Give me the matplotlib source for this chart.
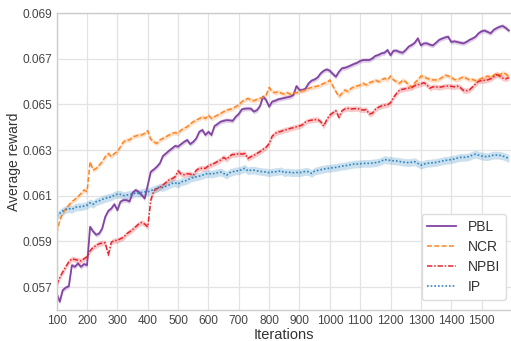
import numpy as np
import matplotlib
matplotlib.use("Agg")
import matplotlib.pyplot as plt

iterations = list(range(100, 1600, 10))

pbl = [56.72, 56.36, 56.87, 56.98, 57.04, 57.96, 57.89, 58.04, 57.89, 58.01,
       57.96, 59.64, 59.44, 59.29, 59.35, 59.57, 60.08, 60.34, 60.44, 60.63,
       60.37, 60.74, 60.81, 60.81, 60.75, 61.13, 61.25, 61.17, 61.03, 60.88,
       61.47, 62.05, 62.15, 62.27, 62.42, 62.74, 62.85, 62.97, 63.07, 63.18,
       63.15, 63.26, 63.36, 63.44, 63.26, 63.36, 63.51, 63.80, 63.88, 63.66,
       63.80, 63.66, 64.05, 64.14, 64.24, 64.28, 64.31, 64.30, 64.28, 64.46,
       64.58, 64.78, 64.81, 64.82, 64.81, 64.68, 64.75, 64.93, 65.34, 65.19,
       64.90, 65.12, 65.16, 65.22, 65.25, 65.28, 65.31, 65.34, 65.41, 65.80,
       65.63, 65.63, 65.69, 65.92, 66.04, 66.09, 66.18, 66.36, 66.47, 66.53,
       66.47, 66.33, 66.21, 66.43, 66.58, 66.60, 66.65, 66.71, 66.77, 66.82,
       66.90, 66.94, 66.94, 66.94, 67.01, 67.12, 67.16, 67.23, 67.26, 67.38,
       67.15, 67.35, 67.35, 67.29, 67.26, 67.38, 67.53, 67.60, 67.70, 67.89,
       67.58, 67.67, 67.67, 67.61, 67.58, 67.70, 67.82, 67.88, 67.93, 67.96,
       67.73, 67.76, 67.73, 67.70, 67.67, 67.73, 67.82, 67.88, 67.96, 68.11,
       68.20, 68.23, 68.17, 68.11, 68.26, 68.34, 68.40, 68.43, 68.34, 68.23]

ncr = [59.35, 59.93, 60.23, 60.44, 60.59, 60.74, 60.84, 60.96, 61.10, 61.25,
       61.18, 62.49, 62.12, 62.20, 62.34, 62.49, 62.71, 62.85, 62.71, 62.85,
       62.93, 63.15, 63.36, 63.44, 63.44, 63.58, 63.61, 63.66, 63.66, 63.73,
       63.85, 63.47, 63.36, 63.29, 63.44, 63.51, 63.58, 63.66, 63.73, 63.76,
       63.73, 63.88, 63.95, 64.02, 64.14, 64.24, 64.31, 64.38, 64.46, 64.38,
       64.53, 64.38, 64.46, 64.53, 64.60, 64.68, 64.75, 64.78, 64.82, 64.90,
       64.97, 65.12, 65.19, 65.26, 65.19, 65.16, 65.22, 65.26, 65.31, 65.41,
       65.74, 65.56, 65.51, 65.56, 65.49, 65.45, 65.51, 65.44, 65.49, 65.51,
       65.56, 65.60, 65.63, 65.70, 65.74, 65.77, 65.80, 65.85, 65.92, 65.95,
       66.07, 65.80, 65.56, 65.34, 65.49, 65.63, 65.56, 65.70, 65.77, 65.80,
       65.85, 65.92, 65.85, 65.95, 65.99, 66.07, 65.99, 66.07, 66.14, 66.07,
       66.24, 66.07, 65.99, 65.92, 66.07, 65.99, 65.85, 65.74, 65.95, 66.07,
       66.24, 66.21, 66.14, 66.09, 66.07, 66.07, 66.09, 66.18, 66.28, 66.24,
       66.18, 66.09, 66.07, 66.14, 66.21, 66.14, 66.07, 66.09, 66.04, 66.07,
       66.14, 66.18, 66.24, 66.18, 66.28, 66.36, 66.28, 66.39, 66.33, 66.21]

npbi = [57.09, 57.42, 57.67, 57.89, 58.11, 58.24, 58.21, 58.18, 58.15, 58.24,
        58.33, 58.59, 58.74, 58.82, 58.90, 58.93, 58.94, 58.40, 58.97, 59.04,
        59.04, 59.12, 59.17, 59.33, 59.42, 59.52, 59.64, 59.76, 59.83, 59.76,
        59.64, 60.81, 61.22, 61.31, 61.36, 61.47, 61.58, 61.69, 61.74, 61.83,
        62.09, 61.95, 61.92, 61.96, 61.95, 61.90, 62.12, 62.20, 62.20, 62.20,
        62.31, 62.36, 62.42, 62.50, 62.56, 62.68, 62.59, 62.74, 62.81, 62.80,
        62.85, 62.82, 62.85, 62.63, 62.71, 62.77, 62.85, 62.93, 63.03, 63.12,
        63.29, 63.61, 63.73, 63.79, 63.82, 63.88, 63.90, 63.95, 63.98, 64.02,
        64.05, 64.11, 64.23, 64.28, 64.31, 64.33, 64.34, 64.24, 64.05, 64.34,
        64.53, 64.63, 64.72, 64.43, 64.72, 64.80, 64.82, 64.80, 64.81, 64.82,
        64.78, 64.75, 64.77, 64.58, 64.61, 64.78, 64.87, 64.93, 64.96, 64.98,
        65.07, 65.31, 65.48, 65.63, 65.66, 65.69, 65.71, 65.74, 65.82, 65.86,
        65.89, 65.95, 65.85, 65.71, 65.77, 65.77, 65.74, 65.77, 65.80, 65.80,
        65.79, 65.77, 65.80, 65.74, 65.61, 65.60, 65.63, 65.76, 65.89, 66.01,
        66.04, 66.05, 66.07, 66.12, 66.21, 66.30, 66.24, 66.15, 66.12, 66.17]

ip = [60.11, 60.23, 60.34, 60.40, 60.44, 60.40, 60.49, 60.52, 60.52, 60.55,
      60.59, 60.69, 60.63, 60.74, 60.78, 60.84, 60.88, 60.93, 60.95, 61.03,
      61.07, 61.06, 61.01, 61.03, 61.06, 61.07, 61.13, 61.10, 61.15, 61.17,
      61.17, 61.22, 61.28, 61.32, 61.39, 61.36, 61.42, 61.47, 61.54, 61.57,
      61.51, 61.61, 61.64, 61.68, 61.76, 61.80, 61.83, 61.86, 61.90, 61.95,
      61.98, 61.95, 61.98, 62.01, 62.04, 61.98, 61.90, 62.01, 62.05, 62.09,
      62.09, 62.15, 62.20, 62.09, 62.12, 62.12, 62.09, 62.07, 62.05, 62.04,
      62.01, 62.04, 62.05, 62.07, 62.09, 62.01, 62.04, 62.02, 62.01, 62.02,
      62.01, 62.04, 62.07, 62.05, 61.98, 62.08, 62.11, 62.14, 62.17, 62.20,
      62.20, 62.23, 62.24, 62.27, 62.30, 62.31, 62.34, 62.36, 62.39, 62.39,
      62.40, 62.42, 62.42, 62.42, 62.43, 62.45, 62.47, 62.52, 62.59, 62.56,
      62.55, 62.53, 62.52, 62.50, 62.47, 62.46, 62.45, 62.47, 62.49, 62.42,
      62.34, 62.39, 62.42, 62.43, 62.45, 62.46, 62.49, 62.52, 62.55, 62.56,
      62.59, 62.61, 62.65, 62.68, 62.68, 62.69, 62.72, 62.78, 62.82, 62.78,
      62.74, 62.72, 62.71, 62.75, 62.78, 62.78, 62.77, 62.74, 62.69, 62.63]

# values above are in units of 1e-3
spread = {"PBL": 0.10, "NCR": 0.10, "NPBI": 0.12, "IP": 0.17}

series = [
    ("PBL", pbl, "#8244a3", "-", 1.3),
    ("NCR", ncr, "#ff8522", (0, (3.2, 1.6)), 1.1),
    ("NPBI", npbi, "#e8242b", (0, (3.5, 1.2, 1.0, 1.2)), 1.1),
    ("IP", ip, "#2f86c0", (0, (1.0, 1.2)), 1.2),
]

plt.rcParams["font.family"] = ["Liberation Sans", "DejaVu Sans"]
fig = plt.figure(figsize=(5.11, 3.41), dpi=100)
ax = fig.add_axes([56.7 / 511, 31 / 341, 1 - 56.7 / 511, 297 / 341])

x = np.array(iterations)
for name, vals, color, ls, lw in series:
    y = np.array(vals) / 1000.0
    s = spread[name] / 1000.0
    ax.fill_between(x, y - s, y + s, color=color, alpha=0.25, linewidth=0)
    ax.plot(x, y, color=color, linestyle=ls, linewidth=lw, label=name)

ax.set_xlim(100, 1597)
ax.set_ylim(0.056, 0.069)
ax.set_xticks(list(range(100, 1600, 100)))
ax.set_yticks([0.057, 0.059, 0.061, 0.063, 0.065, 0.067, 0.069])
ax.set_yticklabels(["0.057", "0.059", "0.061", "0.063", "0.065", "0.067", "0.069"])
ax.grid(True, color="#e3e3e3", linewidth=0.9)
ax.set_axisbelow(True)
for side in ["left", "top", "bottom"]:
    ax.spines[side].set_color("#cccccc")
    ax.spines[side].set_linewidth(1.0)
ax.spines["right"].set_visible(False)
ax.tick_params(axis="both", length=0, labelsize=8.6, colors="#444444", pad=3.5)
ax.set_xlabel("Iterations", fontsize=10.5, color="#333333", labelpad=1)
ax.set_ylabel("Average reward", fontsize=10, color="#333333", labelpad=1)

leg = ax.legend(loc="lower right", fontsize=10, frameon=True, fancybox=True,
                framealpha=1.0, edgecolor="#dddddd", handlelength=2.1,
                borderpad=0.4, labelspacing=0.45, handletextpad=0.85,
                borderaxespad=0, bbox_to_anchor=(0.989, 0.034))
for t in leg.get_texts():
    t.set_color("#333333")

fig.savefig("out.png", dpi=100)
